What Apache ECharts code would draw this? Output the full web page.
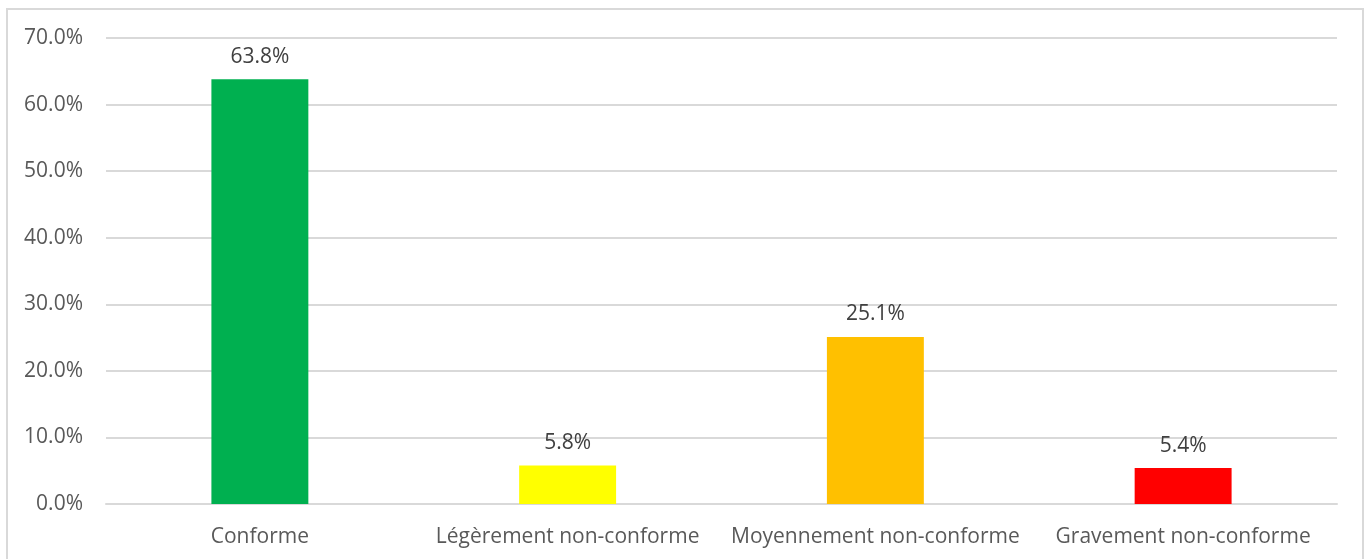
<!DOCTYPE html>
<html><head><meta charset="utf-8">
<script src="https://cdn.jsdelivr.net/npm/echarts@6/dist/echarts.min.js"></script>
<style>
html,body{margin:0;padding:0;background:#fff;width:1370px;height:559px;overflow:hidden;}
#frame{position:absolute;left:6px;top:8px;width:1358px;height:560px;border:2px solid #d9d9d9;box-sizing:border-box;}
#chart{position:absolute;left:0;top:0;width:1370px;height:559px;}
</style></head>
<body>
<div id="frame"></div>
<div id="chart"></div>
<script>
const categories = ['Conforme', 'Légèrement non-conforme', 'Moyennement non-conforme', 'Gravement non-conforme'];
const values = [63.8, 5.8, 25.1, 5.4];
const colors = ['#00B050', '#FFFF00', '#FFC000', '#FF0000'];
const yTicks = [0, 10, 20, 30, 40, 50, 60, 70];

const chart = echarts.init(document.getElementById('chart'), null, {renderer: 'canvas'});
const font = '"Open Sans", sans-serif';
chart.setOption({
  animation: false,
  grid: {left: 106, right: 33, top: 38, bottom: 55, containLabel: false},
  xAxis: {
    type: 'category', data: categories,
    axisLine: {show: true, lineStyle: {color: '#d9d9d9', width: 2}},
    axisTick: {show: false},
    axisLabel: {color: '#595959', fontSize: 21, fontFamily: font, margin: 23, interval: 0}
  },
  yAxis: {
    type: 'value', min: 0, max: 70, interval: 10,
    axisLine: {show: false}, axisTick: {show: false},
    splitLine: {lineStyle: {color: '#d9d9d9', width: 2}},
    axisLabel: {color: '#595959', fontSize: 21, fontFamily: font, margin: 23,
      formatter: v => v.toFixed(1) + '%'}
  },
  series: [{
    type: 'bar', barWidth: '31.5%',
    data: values.map((v, i) => ({value: v, itemStyle: {color: colors[i]}})),
    label: {show: true, position: 'top', distance: 12, color: '#404040', fontSize: 21, fontFamily: font,
      formatter: p => p.value.toFixed(1) + '%'}
  }]
});
</script>
</body></html>
